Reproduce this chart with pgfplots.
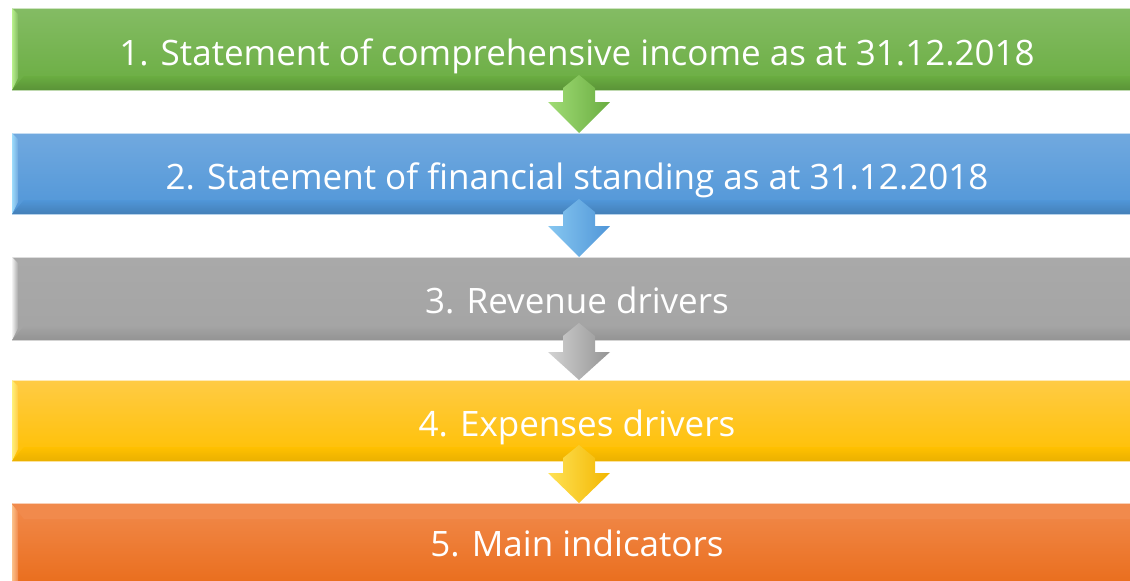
\documentclass[border=0pt]{standalone}
\usepackage{fontspec}
\setmainfont{Open Sans}
\usepackage{pgfplots}
\pgfplotsset{compat=1.18}

% bar colours (top / bottom / bevel highlight)
\definecolor{gTop}{HTML}{84BC64}\definecolor{gBot}{HTML}{6AAD41}\definecolor{gHi}{HTML}{B8F08C}
\definecolor{bTop}{HTML}{71A9DF}\definecolor{bBot}{HTML}{5096D8}\definecolor{bHi}{HTML}{9EDCFB}
\definecolor{yTop}{HTML}{A9A9A9}\definecolor{yBot}{HTML}{A4A4A4}\definecolor{yHi}{HTML}{F2F2F2}
\definecolor{oTop}{HTML}{FFCB45}\definecolor{oBot}{HTML}{FFC000}\definecolor{oHi}{HTML}{FFF07A}
\definecolor{rTop}{HTML}{F18A4C}\definecolor{rBot}{HTML}{EA6F1F}\definecolor{rHi}{HTML}{FFD9A6}

\tikzset{lbl/.style={anchor=base, text=white, font=\fontsize{35}{42}\selectfont}}

\begin{document}
\begin{tikzpicture}
\begin{axis}[
    width=1130pt, height=581pt, scale only axis,
    xmin=0, xmax=1130, ymin=0, ymax=581,
    y dir=reverse,
    axis lines=none, ticks=none,
    clip=true
]
% invisible frame so the page covers the whole canvas
\addplot[draw=none, forget plot] coordinates {(0,0) (1130,0) (1130,581) (0,581)};
% ---- bar 1 (green)
\addplot[draw=gTop!40!white, line width=1pt, top color=gTop, bottom color=gBot]
    coordinates {(12,8) (1130,8) (1130,90) (12,90)} -- cycle;
\addplot[draw=none, left color=gHi, right color=gTop]
    coordinates {(12,8) (18,14) (18,78) (12,90)} -- cycle;
\addplot[draw=none, top color=gBot, middle color=gHi, bottom color=gBot!85!black]
    coordinates {(12,90) (24,76) (1130,76) (1130,90)} -- cycle;
% ---- bar 2 (blue)
\addplot[draw=bTop!40!white, line width=1pt, top color=bTop, bottom color=bBot]
    coordinates {(12,133) (1130,133) (1130,214) (12,214)} -- cycle;
\addplot[draw=none, left color=bHi, right color=bTop]
    coordinates {(12,133) (18,139) (18,202) (12,214)} -- cycle;
\addplot[draw=none, top color=bBot, middle color=bHi, bottom color=bBot!85!black]
    coordinates {(12,214) (24,200) (1130,200) (1130,214)} -- cycle;
% ---- bar 3 (grey)
\addplot[draw=yTop!40!white, line width=1pt, top color=yTop, bottom color=yBot]
    coordinates {(12,257) (1130,257) (1130,340) (12,340)} -- cycle;
\addplot[draw=none, left color=yHi, right color=yTop]
    coordinates {(12,257) (18,263) (18,328) (12,340)} -- cycle;
\addplot[draw=none, top color=yBot, middle color=yHi, bottom color=yBot!90!black]
    coordinates {(12,340) (24,326) (1130,326) (1130,340)} -- cycle;
% ---- bar 4 (yellow)
\addplot[draw=oTop!40!white, line width=1pt, top color=oTop, bottom color=oBot]
    coordinates {(12,380) (1130,380) (1130,461) (12,461)} -- cycle;
\addplot[draw=none, left color=oHi, right color=oTop]
    coordinates {(12,380) (18,386) (18,449) (12,461)} -- cycle;
\addplot[draw=none, top color=oBot, middle color=oHi, bottom color=oBot!92!black]
    coordinates {(12,461) (24,447) (1130,447) (1130,461)} -- cycle;
% ---- bar 5 (orange, cut off at the bottom)
\addplot[draw=none, top color=rTop, bottom color=rBot]
    coordinates {(12,503) (1130,503) (1130,581) (12,581)} -- cycle;
\addplot[draw=rTop!40!white, line width=1pt]
    coordinates {(12,581) (12,503) (1130,503)};
\addplot[draw=none, left color=rHi!70!rTop, right color=rTop]
    coordinates {(12,503) (18,509) (18,581) (12,581)} -- cycle;
\addplot[draw=none, top color=rTop, middle color=rHi, bottom color=rTop]
    coordinates {(12,504) (1130,504) (1130,519) (24,519)} -- cycle;

% ---- arrows
\addplot[draw=none, left color=gHi!70!gBot, right color=gBot]
    coordinates {(563,88) (579,75) (595,88) (595,102) (610,102) (579,133) (548,102) (563,102)} -- cycle;
\addplot[draw=none, left color=bHi!70!bBot, right color=bBot]
    coordinates {(563,212) (579,199) (595,212) (595,226) (610,226) (579,257) (548,226) (563,226)} -- cycle;
\addplot[draw=none, left color=yHi!60!yBot, right color=yBot!90!black]
    coordinates {(563,336) (579,323) (595,336) (595,352) (610,352) (579,380) (548,352) (563,352)} -- cycle;
\addplot[draw=none, left color=oHi!70!oBot, right color=oBot!95!black]
    coordinates {(563,458) (579,445) (595,458) (595,473) (610,473) (579,503) (548,473) (563,473)} -- cycle;

% ---- labels
\node[lbl] at (axis cs:577,65)  {1. Statement of comprehensive income as at 31.12.2018};
\node[lbl] at (axis cs:577,189) {2. Statement of financial standing as at 31.12.2018};
\node[lbl] at (axis cs:577,313) {3. Revenue drivers};
\node[lbl] at (axis cs:577,436) {4. Expenses drivers};
\node[lbl] at (axis cs:577,556) {5. Main indicators};
\end{axis}
\end{tikzpicture}
\end{document}
